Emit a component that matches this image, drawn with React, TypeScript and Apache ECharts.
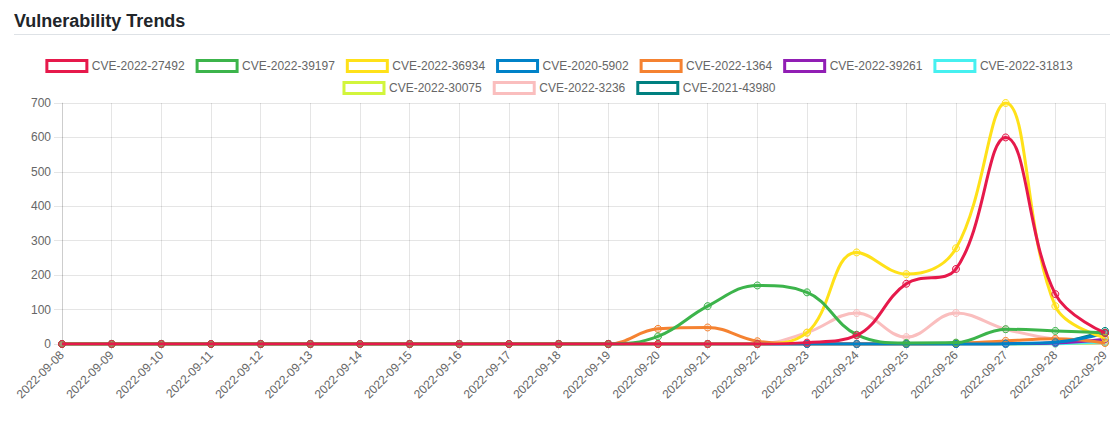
import { useEffect, useRef } from "react";
import * as echarts from "echarts";

const dates = [
  "2022-09-08", "2022-09-09", "2022-09-10", "2022-09-11", "2022-09-12", "2022-09-13",
  "2022-09-14", "2022-09-15", "2022-09-16", "2022-09-17", "2022-09-18", "2022-09-19",
  "2022-09-20", "2022-09-21", "2022-09-22", "2022-09-23", "2022-09-24", "2022-09-25",
  "2022-09-26", "2022-09-27", "2022-09-28", "2022-09-29",
];

const yTicks = [0, 100, 200, 300, 400, 500, 600, 700];

const seriesNames = [
  "CVE-2022-27492", "CVE-2022-39197", "CVE-2022-36934", "CVE-2020-5902", "CVE-2022-1364",
  "CVE-2022-39261", "CVE-2022-31813", "CVE-2022-30075", "CVE-2022-3236", "CVE-2021-43980",
];

const seriesColors = [
  "#e6194b", "#3cb44b", "#ffe119", "#0082c8", "#f58231",
  "#911eb4", "#46f0f0", "#d2f53c", "#fabebe", "#008080",
];

const cve202227492 = [0, 0, 0, 0, 0, 0, 0, 0, 0, 0, 0, 0, 0, 0, 0, 4, 25, 175, 218, 600, 145, 32];
const cve202239197 = [0, 0, 0, 0, 0, 0, 0, 0, 0, 0, 0, 0, 22, 110, 170, 150, 27, 3, 4, 43, 38, 33];
const cve202236934 = [0, 0, 0, 0, 0, 0, 0, 0, 0, 0, 0, 0, 0, 0, 0, 33, 266, 203, 278, 700, 110, 18];
const cve20205902 = [0, 0, 0, 0, 0, 0, 0, 0, 0, 0, 0, 0, 0, 0, 0, 0, 0, 0, 0, 1, 5, 31];
const cve20221364 = [0, 0, 0, 0, 0, 0, 0, 0, 0, 0, 0, 0, 44, 48, 8, 0, 0, 0, 2, 9, 15, 3];
const cve202239261 = [0, 0, 0, 0, 0, 0, 0, 0, 0, 0, 0, 0, 0, 0, 0, 0, 0, 0, 0, 1, 3, 14];
const cve202231813 = [0, 0, 0, 0, 0, 0, 0, 0, 0, 0, 0, 0, 0, 0, 0, 0, 0, 0, 0, 0, 1, 6];
const cve202230075 = [0, 0, 0, 0, 0, 0, 0, 0, 0, 0, 0, 0, 0, 0, 0, 0, 0, 0, 0, 0, 1, 4];
const cve20223236 = [0, 0, 0, 0, 0, 0, 0, 0, 0, 0, 0, 0, 0, 0, 0, 33, 90, 20, 90, 43, 14, 5];
const cve202143980 = [0, 0, 0, 0, 0, 0, 0, 0, 0, 0, 0, 0, 0, 0, 0, 0, 0, 0, 0, 0, 4, 38];

const seriesValues = [
  cve202227492, cve202239197, cve202236934, cve20205902, cve20221364,
  cve202239261, cve202231813, cve202230075, cve20223236, cve202143980,
];

const legendRows = [7, 3];

const FONT = "'Liberation Sans', Arial, Helvetica, sans-serif";

function hexToRgba(hex: string, a: number) {
  const n = parseInt(hex.slice(1), 16);
  return `rgba(${(n >> 16) & 255},${(n >> 8) & 255},${n & 255},${a})`;
}

export default function App() {
  const ref = useRef<HTMLDivElement>(null);

  useEffect(() => {
    if (!ref.current) return;
    const chart = echarts.init(ref.current, undefined, { renderer: "svg" });
    const n = seriesNames.length;
    const legendItem = (name: string, i: number) => ({
      name,
      icon: "rect",
      itemStyle: { color: "#ffffff", borderColor: seriesColors[i], borderWidth: 3 },
    });
    let start = 0;
    const legends = legendRows.map((count, r) => {
      const items = seriesNames.slice(start, start + count).map((nm, k) => legendItem(nm, start + k));
      start += count;
      return {
        left: "center",
        top: 59 + r * 22,
        padding: 0,
        itemWidth: 40,
        itemHeight: 11,
        itemGap: 11,
        textStyle: { fontSize: 12, color: "#666", fontFamily: FONT, lineHeight: 12 },
        data: items,
      };
    });
    chart.setOption({
      animation: false,
      backgroundColor: "#ffffff",
      textStyle: { fontFamily: FONT },
      title: {
        text: "Vulnerability Trends",
        left: 9,
        top: 7,
        textStyle: { fontSize: 18, fontWeight: "bold", color: "#212529", fontFamily: FONT },
      },
      graphic: [
        {
          type: "line",
          shape: { x1: 14, y1: 34.5, x2: 1110, y2: 34.5 },
          style: { stroke: "#dee2e6", lineWidth: 1 },
        },
      ],
      legend: legends,
      grid: { left: 62, right: 13, top: 103, bottom: 84 },
      xAxis: {
        type: "category",
        data: dates,
        boundaryGap: false,
        axisLine: { show: true, lineStyle: { color: "rgba(0,0,0,0.1)" } },
        axisTick: { show: true, length: 6, alignWithLabel: true, lineStyle: { color: "rgba(0,0,0,0.1)" } },
        splitLine: { show: true, lineStyle: { color: "rgba(0,0,0,0.1)" } },
        axisLabel: { rotate: 45, fontSize: 12, color: "#666", margin: 9, interval: 0, fontFamily: FONT },
      },
      yAxis: {
        type: "value",
        min: yTicks[0],
        max: yTicks[yTicks.length - 1],
        interval: 100,
        axisLine: { show: true, lineStyle: { color: "rgba(0,0,0,0.1)" } },
        axisTick: { show: true, length: 8, lineStyle: { color: "rgba(0,0,0,0.1)" } },
        splitLine: { show: true, lineStyle: { color: "rgba(0,0,0,0.1)" } },
        axisLabel: { fontSize: 12, color: "#666", margin: 11, fontFamily: FONT },
      },
      series: seriesNames.map((name, i) => ({
        name,
        type: "line",
        data: seriesValues[i],
        smooth: 0.4,
        z: 2 + (n - i),
        symbol: "circle",
        symbolSize: 7,
        showSymbol: true,
        lineStyle: { color: seriesColors[i], width: 3 },
        itemStyle: { color: hexToRgba(seriesColors[i], 0.2), borderColor: seriesColors[i], borderWidth: 1 },
        emphasis: { disabled: true },
      })),
    });
    return () => chart.dispose();
  }, []);

  return (
    <div
      ref={ref}
      style={{ position: "fixed", left: 0, top: 0, width: 1118, height: 428 }}
    />
  );
}
